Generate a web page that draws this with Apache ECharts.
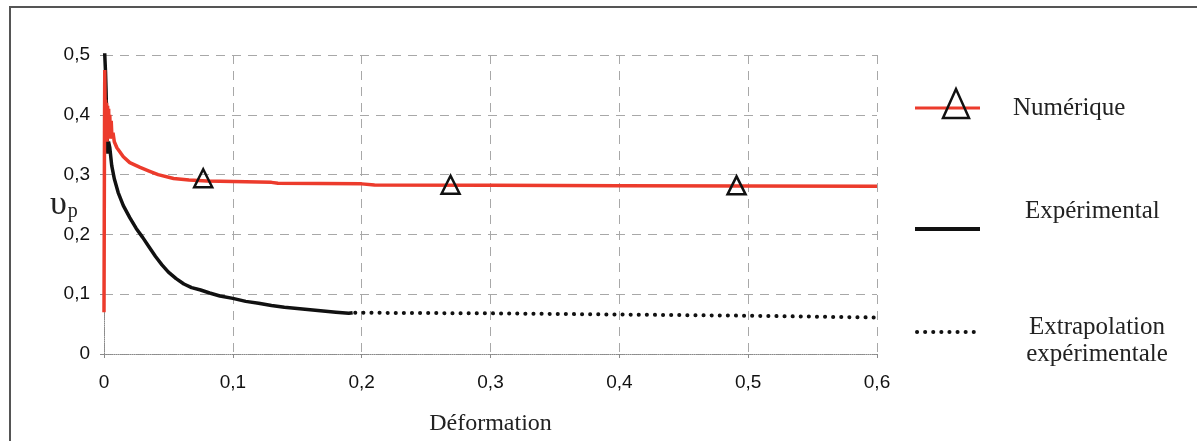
<!DOCTYPE html>
<html><head><meta charset="utf-8">
<script src="https://cdn.jsdelivr.net/npm/echarts@6/dist/echarts.min.js"></script>
<style>html,body{margin:0;padding:0;background:#fff}#c{width:1197px;height:441px}</style>
</head><body><div id="c"></div>
<script>
// Numérique (red curve)
const numX = [0, 0.0002, 0.0004, 0.0006, 0.0009, 0.0012, 0.0016, 0.002, 0.0024, 0.0028, 0.0032, 0.0036, 0.004, 0.0045, 0.005, 0.0056, 0.0062, 0.007, 0.008, 0.01, 0.015, 0.02, 0.028, 0.035, 0.042, 0.054, 0.066, 0.08, 0.1, 0.13, 0.135, 0.2, 0.21, 0.3, 0.4, 0.5, 0.6];
const numY = [0.07, 0.22, 0.38, 0.475, 0.40, 0.425, 0.36, 0.42, 0.355, 0.415, 0.36, 0.41, 0.36, 0.40, 0.36, 0.39, 0.36, 0.37, 0.355, 0.345, 0.33, 0.32, 0.312, 0.306, 0.300, 0.2935, 0.291, 0.2895, 0.2885, 0.287, 0.2855, 0.2845, 0.2825, 0.282, 0.2815, 0.281, 0.2805];
// Numérique markers (triangles)
const markX = [0.077, 0.269, 0.491];
const markY = [0.294, 0.283, 0.282];
// Expérimental (black curve)
const expX = [0.0004, 0.0008, 0.0012, 0.0016, 0.002, 0.0025, 0.003, 0.0035, 0.0045, 0.006, 0.008, 0.011, 0.015, 0.02, 0.025, 0.03, 0.035, 0.04, 0.045, 0.05, 0.056, 0.062, 0.068, 0.075, 0.082, 0.09, 0.1, 0.11, 0.12, 0.13, 0.14, 0.15, 0.16, 0.17, 0.18, 0.19, 0.193];
const expY = [0.51, 0.49, 0.47, 0.44, 0.40, 0.36, 0.335, 0.355, 0.345, 0.315, 0.293, 0.27, 0.248, 0.228, 0.21, 0.195, 0.179, 0.163, 0.149, 0.137, 0.126, 0.117, 0.111, 0.107, 0.102, 0.097, 0.093, 0.088, 0.085, 0.081, 0.078, 0.076, 0.074, 0.072, 0.070, 0.068, 0.069];
// Extrapolation expérimentale (dotted)
const extX = [0.195, 0.3, 0.4, 0.5, 0.6];
const extY = [0.069, 0.068, 0.066, 0.064, 0.061];
// Axis ticks
const xTicks = [0, 0.1, 0.2, 0.3, 0.4, 0.5, 0.6];
const yTicks = [0, 0.1, 0.2, 0.3, 0.4, 0.5];

const zip = (a, b) => a.map((v, i) => [v, b[i]]);
const fmt = v => String(Math.round(v * 10) / 10).replace('.', ',');
const RED = '#ec3b2c', BLK = '#111';
const serif = 'Liberation Serif';
const sans = 'Liberation Sans';

const chart = echarts.init(document.getElementById('c'), null, {renderer: 'canvas'});
const gridStyle = {show: true, lineStyle: {color: '#a8a8a8', width: 1, type: [9, 7]}};
chart.setOption({
  animation: false,
  grid: {left: 104, right: 320, top: 55, bottom: 85},
  xAxis: {
    type: 'value', min: xTicks[0], max: xTicks[xTicks.length - 1], interval: 0.1,
    axisLine: {show: true, lineStyle: {color: '#8a8a8a', type: 'dotted', width: 1}},
    axisTick: {show: true, length: 4, lineStyle: {color: '#8a8a8a'}},
    axisLabel: {formatter: fmt, fontFamily: sans, fontSize: 19, color: '#111', margin: 19},
    splitLine: Object.assign({showMaxLine: true}, gridStyle),
    name: 'Déformation', nameLocation: 'middle', nameGap: 58,
    nameTextStyle: {fontFamily: serif, fontSize: 24, color: '#222'}
  },
  yAxis: {
    type: 'value', min: yTicks[0], max: yTicks[yTicks.length - 1], interval: 0.1,
    axisLine: {show: true, lineStyle: {color: '#8a8a8a', type: 'dotted', width: 1}},
    axisTick: {show: true, length: 4, lineStyle: {color: '#8a8a8a'}},
    axisLabel: {formatter: fmt, fontFamily: sans, fontSize: 19, color: '#111', margin: 14},
    splitLine: Object.assign({showMaxLine: true}, gridStyle)
  },
  series: [
    {name: 'Extrapolation expérimentale', type: 'line', data: zip(extX, extY), showSymbol: false, z: 2,
     lineStyle: {color: BLK, width: 4, type: [0.1, 8], cap: 'round'}},
    {name: 'Expérimental', type: 'line', data: zip(expX, expY), showSymbol: false, z: 3,
     lineStyle: {color: BLK, width: 3.5}},
    {name: 'Numérique', type: 'line', data: zip(numX, numY), showSymbol: false, z: 4,
     lineStyle: {color: RED, width: 3.5}},
    {name: 'Numérique marqueurs', type: 'scatter', data: zip(markX, markY), z: 5,
     symbol: 'triangle', symbolSize: [18, 18],
     itemStyle: {color: 'rgba(255,255,255,0)', borderColor: BLK, borderWidth: 2.5, opacity: 1}}
  ],
  graphic: [
    {type: 'rect', shape: {x: 10, y: 7, width: 1250, height: 500}, style: {fill: 'none', stroke: '#555', lineWidth: 2}, silent: true},
    {type: 'text', left: 50, top: 188, style: {
      rich: {u: {fontFamily: serif, fontSize: 34, fill: '#222'}, p: {fontFamily: serif, fontSize: 20, fill: '#222', padding: [14, 0, 0, 1]}},
      text: '{u|υ}{p|p}'}},
    // legend: Numérique
    {type: 'line', shape: {x1: 915, y1: 108, x2: 980, y2: 108}, style: {stroke: RED, lineWidth: 3}},
    {type: 'polygon', shape: {points: [[956, 89], [943, 118], [969, 118]]}, style: {fill: 'none', stroke: BLK, lineWidth: 2.5}},
    {type: 'text', x: 1013, y: 108, style: {text: 'Numérique', fontFamily: serif, fontSize: 25, fill: '#222', verticalAlign: 'middle'}},
    // legend: Expérimental
    {type: 'line', shape: {x1: 915, y1: 229, x2: 980, y2: 229}, style: {stroke: BLK, lineWidth: 4}},
    {type: 'text', x: 1025, y: 211, style: {text: 'Expérimental', fontFamily: serif, fontSize: 25, fill: '#222', verticalAlign: 'middle'}},
    // legend: Extrapolation
    {type: 'line', shape: {x1: 917, y1: 332, x2: 980, y2: 332}, style: {stroke: BLK, lineWidth: 4, lineDash: [0.1, 8], lineCap: 'round'}},
    {type: 'text', x: 1097, y: 341, style: {text: 'Extrapolation\nexpérimentale', fontFamily: serif, fontSize: 25, lineHeight: 27, fill: '#222', align: 'center', verticalAlign: 'middle'}}
  ]
});
</script></body></html>
